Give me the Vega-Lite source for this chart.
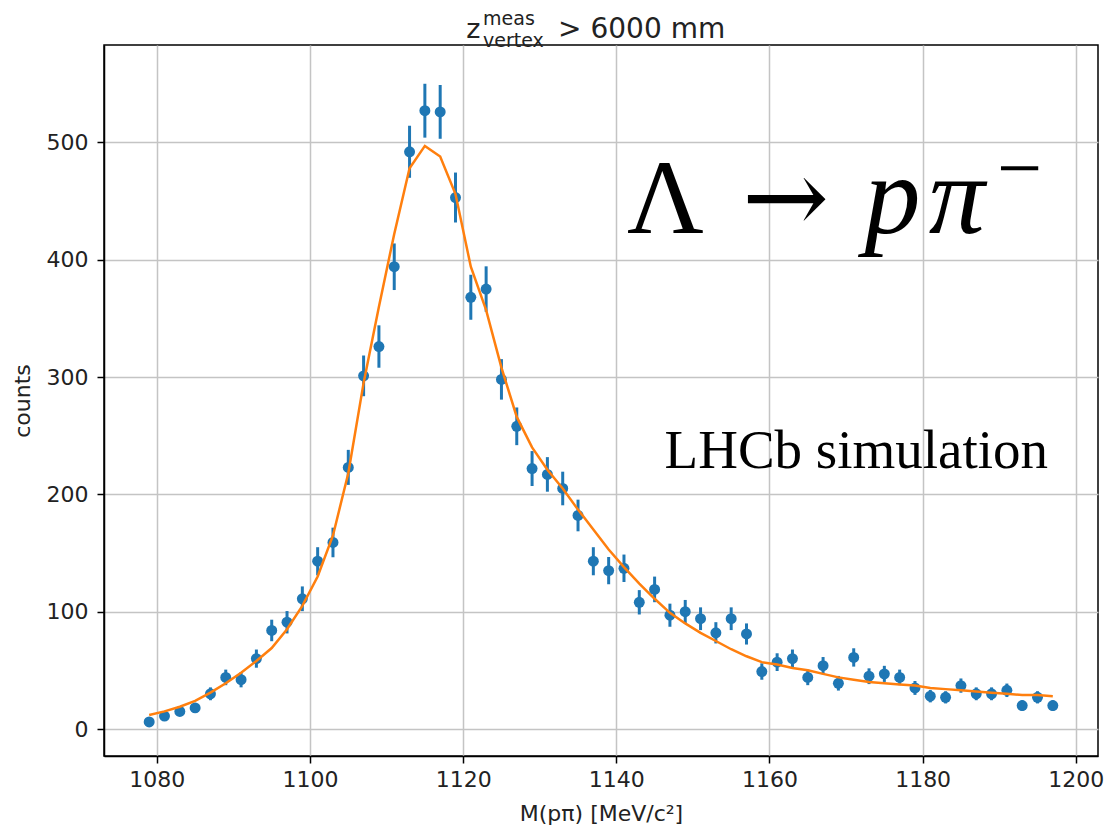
{
  "$schema": "https://vega.github.io/schema/vega-lite/v6.json",
  "width": 994,
  "height": 711,
  "autosize": {"type": "none"},
  "padding": {"left": 104, "top": 45, "right": 9, "bottom": 73},
  "background": "white",
  "data": {"values": [
    {"m": 1079, "n": 6, "lo": 3.55, "hi": 8.45, "fit": 12},
    {"m": 1081, "n": 11, "lo": 7.68, "hi": 14.32, "fit": 15},
    {"m": 1083, "n": 15, "lo": 11.13, "hi": 18.87, "fit": 19},
    {"m": 1085, "n": 18, "lo": 13.76, "hi": 22.24, "fit": 24},
    {"m": 1087, "n": 30, "lo": 24.52, "hi": 35.48, "fit": 31},
    {"m": 1089, "n": 44, "lo": 37.37, "hi": 50.63, "fit": 39},
    {"m": 1091, "n": 42, "lo": 35.52, "hi": 48.48, "fit": 48},
    {"m": 1093, "n": 60, "lo": 52.25, "hi": 67.75, "fit": 58},
    {"m": 1095, "n": 84, "lo": 74.83, "hi": 93.17, "fit": 69},
    {"m": 1097, "n": 91, "lo": 81.46, "hi": 100.54, "fit": 85},
    {"m": 1099, "n": 111, "lo": 100.46, "hi": 121.54, "fit": 105},
    {"m": 1101, "n": 143, "lo": 131.04, "hi": 154.96, "fit": 130},
    {"m": 1103, "n": 159, "lo": 146.39, "hi": 171.61, "fit": 165},
    {"m": 1105, "n": 223, "lo": 208.07, "hi": 237.93, "fit": 218},
    {"m": 1107, "n": 301, "lo": 283.65, "hi": 318.35, "fit": 295},
    {"m": 1109, "n": 326, "lo": 307.94, "hi": 344.06, "fit": 360},
    {"m": 1111, "n": 394, "lo": 374.15, "hi": 413.85, "fit": 422},
    {"m": 1113, "n": 492, "lo": 469.82, "hi": 514.18, "fit": 478},
    {"m": 1115, "n": 527, "lo": 504.04, "hi": 549.96, "fit": 497},
    {"m": 1117, "n": 526, "lo": 503.07, "hi": 548.93, "fit": 488},
    {"m": 1119, "n": 453, "lo": 431.72, "hi": 474.28, "fit": 456},
    {"m": 1121, "n": 368, "lo": 348.82, "hi": 387.18, "fit": 394},
    {"m": 1123, "n": 375, "lo": 355.64, "hi": 394.36, "fit": 357},
    {"m": 1125, "n": 298, "lo": 280.74, "hi": 315.26, "fit": 308},
    {"m": 1127, "n": 258, "lo": 241.94, "hi": 274.06, "fit": 266},
    {"m": 1129, "n": 222, "lo": 207.1, "hi": 236.9, "fit": 240},
    {"m": 1131, "n": 217, "lo": 202.27, "hi": 231.73, "fit": 221},
    {"m": 1133, "n": 205, "lo": 190.68, "hi": 219.32, "fit": 205},
    {"m": 1135, "n": 182, "lo": 168.51, "hi": 195.49, "fit": 187},
    {"m": 1137, "n": 143, "lo": 131.04, "hi": 154.96, "fit": 170},
    {"m": 1139, "n": 135, "lo": 123.38, "hi": 146.62, "fit": 153},
    {"m": 1141, "n": 137, "lo": 125.3, "hi": 148.7, "fit": 138},
    {"m": 1143, "n": 108, "lo": 97.61, "hi": 118.39, "fit": 124},
    {"m": 1145, "n": 119, "lo": 108.09, "hi": 129.91, "fit": 111},
    {"m": 1147, "n": 97, "lo": 87.15, "hi": 106.85, "fit": 99},
    {"m": 1149, "n": 100, "lo": 90, "hi": 110, "fit": 90},
    {"m": 1151, "n": 94, "lo": 84.3, "hi": 103.7, "fit": 82},
    {"m": 1153, "n": 82, "lo": 72.94, "hi": 91.06, "fit": 75},
    {"m": 1155, "n": 94, "lo": 84.3, "hi": 103.7, "fit": 68},
    {"m": 1157, "n": 81, "lo": 72, "hi": 90, "fit": 62},
    {"m": 1159, "n": 49, "lo": 42, "hi": 56, "fit": 57},
    {"m": 1161, "n": 57, "lo": 49.45, "hi": 64.55, "fit": 55},
    {"m": 1163, "n": 60, "lo": 52.25, "hi": 67.75, "fit": 52},
    {"m": 1165, "n": 44, "lo": 37.37, "hi": 50.63, "fit": 50},
    {"m": 1167, "n": 54, "lo": 46.65, "hi": 61.35, "fit": 47},
    {"m": 1169, "n": 39, "lo": 32.76, "hi": 45.24, "fit": 44},
    {"m": 1171, "n": 61, "lo": 53.19, "hi": 68.81, "fit": 42},
    {"m": 1173, "n": 45, "lo": 38.29, "hi": 51.71, "fit": 40},
    {"m": 1175, "n": 47, "lo": 40.14, "hi": 53.86, "fit": 39},
    {"m": 1177, "n": 44, "lo": 37.37, "hi": 50.63, "fit": 38},
    {"m": 1179, "n": 35, "lo": 29.08, "hi": 40.92, "fit": 37},
    {"m": 1181, "n": 28, "lo": 22.71, "hi": 33.29, "fit": 35},
    {"m": 1183, "n": 27, "lo": 21.8, "hi": 32.2, "fit": 34},
    {"m": 1185, "n": 37, "lo": 30.92, "hi": 43.08, "fit": 33},
    {"m": 1187, "n": 30, "lo": 24.52, "hi": 35.48, "fit": 32},
    {"m": 1189, "n": 30, "lo": 24.52, "hi": 35.48, "fit": 31},
    {"m": 1191, "n": 33, "lo": 27.26, "hi": 38.74, "fit": 30},
    {"m": 1193, "n": 20, "lo": 15.53, "hi": 24.47, "fit": 29},
    {"m": 1195, "n": 27, "lo": 21.8, "hi": 32.2, "fit": 29},
    {"m": 1197, "n": 20, "lo": 15.53, "hi": 24.47, "fit": 28}
  ]},
  "layer": [
    {
      "mark": {"type": "rule", "color": "#1f77b4", "strokeWidth": 3},
      "encoding": {
        "x": {"field": "m", "type": "quantitative",
              "scale": {"domain": [1073.1, 1202.9], "nice": false, "zero": false},
              "axis": {"values": [1080, 1100, 1120, 1140, 1160, 1180, 1200], "title": "M(pπ) [MeV/c²]", "labelPadding": 6, "titlePadding": 13, "format": "d"}},
        "y": {"field": "lo", "type": "quantitative",
              "scale": {"domain": [-23, 583], "nice": false, "zero": false},
              "axis": {"values": [0, 100, 200, 300, 400, 500], "title": "counts", "labelPadding": 9, "titlePadding": 12}},
        "y2": {"field": "hi"}
      }
    },
    {
      "mark": {"type": "point", "filled": true, "color": "#1f77b4", "size": 120, "opacity": 1},
      "encoding": {
        "x": {"field": "m", "type": "quantitative"},
        "y": {"field": "n", "type": "quantitative"}
      }
    },
    {
      "mark": {"type": "line", "color": "#ff7f0e", "strokeWidth": 2.5},
      "encoding": {
        "x": {"field": "m", "type": "quantitative"},
        "y": {"field": "fit", "type": "quantitative"}
      }
    },
    {
      "data": {"values": [{}]},
      "mark": {"type": "text", "text": "Λ", "font": "Liberation Serif", "fontSize": 106, "fontWeight": "normal", "align": "left", "baseline": "alphabetic", "color": "black"},
      "encoding": {"x": {"datum": 1141.4, "type": "quantitative"}, "y": {"datum": 422.5, "type": "quantitative"}}
    },
    {
      "data": {"values": [{}]},
      "mark": {"type": "text", "text": "→", "font": "DejaVu Serif", "fontSize": 104, "fontWeight": "normal", "align": "left", "baseline": "alphabetic", "color": "black"},
      "encoding": {"x": {"datum": 1156.4, "type": "quantitative"}, "y": {"datum": 422.5, "type": "quantitative"}}
    },
    {
      "data": {"values": [{}]},
      "mark": {"type": "text", "text": "p", "font": "Liberation Serif", "fontStyle": "italic", "fontSize": 112, "fontWeight": "normal", "align": "left", "baseline": "alphabetic", "color": "black"},
      "encoding": {"x": {"datum": 1172.4, "type": "quantitative"}, "y": {"datum": 422.5, "type": "quantitative"}}
    },
    {
      "data": {"values": [{}]},
      "mark": {"type": "text", "text": "π", "font": "Liberation Serif", "fontStyle": "italic", "fontSize": 112, "fontWeight": "normal", "align": "left", "baseline": "alphabetic", "color": "black"},
      "encoding": {"x": {"datum": 1180.8, "type": "quantitative"}, "y": {"datum": 422.5, "type": "quantitative"}}
    },
    {
      "data": {"values": [{}]},
      "mark": {"type": "text", "text": "−", "font": "Liberation Serif", "fontSize": 80, "fontWeight": "normal", "align": "left", "baseline": "alphabetic", "color": "black"},
      "encoding": {"x": {"datum": 1189.7, "type": "quantitative"}, "y": {"datum": 455, "type": "quantitative"}}
    },
    {
      "data": {"values": [{}]},
      "mark": {"type": "text", "text": "LHCb simulation", "font": "Liberation Serif", "fontSize": 55, "fontWeight": "normal", "align": "left", "baseline": "alphabetic", "color": "black"},
      "encoding": {"x": {"datum": 1146.3, "type": "quantitative"}, "y": {"datum": 222.3, "type": "quantitative"}}
    },
    {
      "data": {"values": [{}]},
      "mark": {"type": "text", "text": "z", "font": "DejaVu Sans", "fontSize": 27, "fontWeight": "normal", "align": "left", "baseline": "alphabetic", "color": "#222"},
      "encoding": {"x": {"datum": 1120.4, "type": "quantitative"}, "y": {"datum": 588.6, "type": "quantitative"}}
    },
    {
      "data": {"values": [{}]},
      "mark": {"type": "text", "text": "meas", "font": "DejaVu Sans", "fontSize": 19, "fontWeight": "normal", "align": "left", "baseline": "alphabetic", "color": "#222"},
      "encoding": {"x": {"datum": 1122.6, "type": "quantitative"}, "y": {"datum": 599.7, "type": "quantitative"}}
    },
    {
      "data": {"values": [{}]},
      "mark": {"type": "text", "text": "vertex", "font": "DejaVu Sans", "fontSize": 19, "fontWeight": "normal", "align": "left", "baseline": "alphabetic", "color": "#222"},
      "encoding": {"x": {"datum": 1122.6, "type": "quantitative"}, "y": {"datum": 581.2, "type": "quantitative"}}
    },
    {
      "data": {"values": [{}]},
      "mark": {"type": "text", "text": "> 6000 mm", "font": "DejaVu Sans", "fontSize": 28, "fontWeight": "normal", "align": "left", "baseline": "alphabetic", "color": "#222"},
      "encoding": {"x": {"datum": 1132.4, "type": "quantitative"}, "y": {"datum": 588.6, "type": "quantitative"}}
    }
  ],
  "config": {
    "view": {"stroke": "black", "strokeWidth": 1.5},
    "axis": {
      "domainColor": "black", "domainWidth": 1.5,
      "tickColor": "black", "tickWidth": 1.5, "tickSize": 7,
      "labelFont": "DejaVu Sans", "labelFontSize": 22, "labelColor": "#222",
      "titleFont": "DejaVu Sans", "titleFontSize": 22, "titleFontWeight": "normal", "titleColor": "#222",
      "gridColor": "#c4c4c4", "gridWidth": 1.5
    }
  }
}
